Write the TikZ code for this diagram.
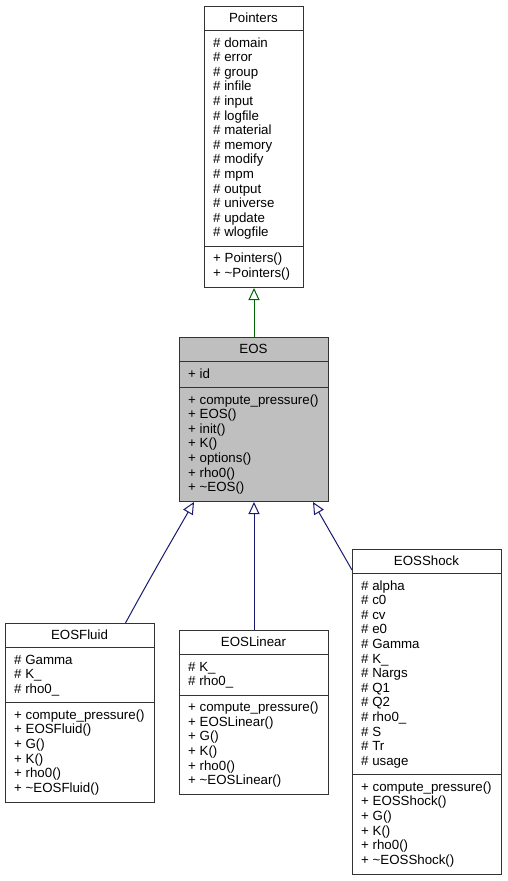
\documentclass[tikz,border=0pt]{standalone}
\usepackage{fontspec}
\setmainfont{Liberation Sans}
\usetikzlibrary{arrows.meta}
\newcommand{\umlfont}{\fontsize{13.3}{14.6}\selectfont}
\definecolor{inhgreen}{HTML}{006400}
\definecolor{inhblue}{HTML}{191970}
\definecolor{basegray}{HTML}{BFBFBF}
\tikzset{
    classbox/.style = {draw = black!80, line width = 1pt, fill = white, anchor = north west, inner sep = 0pt, minimum width = 149pt},
    classname/.style = {anchor = base, inner sep = 0pt, font = \umlfont},
    member/.style = {anchor = base west, inner sep = 0pt, font = \umlfont},
    compsep/.style = {draw = black!80, line width = 1pt},
    inherit/.style = {-{Triangle[open, length = 12pt, width = 11pt]}, line width = 1pt}
}
\begin{document}
\begin{tikzpicture}[x = 1pt, y = -1pt]
    \useasboundingbox (0,0) rectangle (507,881);
    % Pointers
    \node[classbox, minimum width = 99pt, minimum height = 281pt] (pointers) at (204,6) {};
    \node[classname] (pointers-name) at (253.5,22) {Pointers};
    \draw[compsep] ([yshift = -24.5pt]pointers.north west) -- ([yshift = -24.5pt]pointers.north east);
    \draw[compsep] ([yshift = -240.4pt]pointers.north west) -- ([yshift = -240.4pt]pointers.north east);
    \foreach \m [count = \i from 0] in {\# domain, \# error, \# group, \# infile, \# input, \# logfile, \# material, \# memory, \# modify, \# mpm, \# output, \# universe, \# update, \# wlogfile}
        \node[member] (pointers-a\i) at (213,{47+14.6*\i}) {\m};
    \foreach \m [count = \i from 0] in {+ Pointers(), + \textasciitilde Pointers()}
        \node[member] (pointers-o\i) at (213,{262.9+14.6*\i}) {\m};
    % EOS
    \node[classbox, fill = basegray, minimum height = 164pt] (eos) at (179,337) {};
    \node[classname] (eos-name) at (253.5,353) {EOS};
    \draw[compsep] ([yshift = -24.5pt]eos.north west) -- ([yshift = -24.5pt]eos.north east);
    \draw[compsep] ([yshift = -50.6pt]eos.north west) -- ([yshift = -50.6pt]eos.north east);
    \node[member] (eos-a0) at (188,378) {+ id};
    \foreach \m [count = \i from 0] in {+ compute\_pressure(), + EOS(), + init(), + K(), + options(), + rho0(), + \textasciitilde EOS()}
        \node[member] (eos-o\i) at (188,{404.1+14.6*\i}) {\m};
    % EOSFluid
    \node[classbox, minimum height = 178.9pt] (eosfluid) at (5,623) {};
    \node[classname] (eosfluid-name) at (79.5,639) {EOSFluid};
    \draw[compsep] ([yshift = -24.5pt]eosfluid.north west) -- ([yshift = -24.5pt]eosfluid.north east);
    \draw[compsep] ([yshift = -79.8pt]eosfluid.north west) -- ([yshift = -79.8pt]eosfluid.north east);
    \foreach \m [count = \i from 0] in {\# Gamma, \# K\_, \# rho0\_}
        \node[member] (eosfluid-a\i) at (14,{664+14.6*\i}) {\m};
    \foreach \m [count = \i from 0] in {+ compute\_pressure(), + EOSFluid(), + G(), + K(), + rho0(), + \textasciitilde EOSFluid()}
        \node[member] (eosfluid-o\i) at (14,{719.3+14.6*\i}) {\m};
    % EOSLinear
    \node[classbox, minimum height = 164.3pt] (eoslinear) at (179,630) {};
    \node[classname] (eoslinear-name) at (253.5,646) {EOSLinear};
    \draw[compsep] ([yshift = -24.5pt]eoslinear.north west) -- ([yshift = -24.5pt]eoslinear.north east);
    \draw[compsep] ([yshift = -65.2pt]eoslinear.north west) -- ([yshift = -65.2pt]eoslinear.north east);
    \foreach \m [count = \i from 0] in {\# K\_, \# rho0\_}
        \node[member] (eoslinear-a\i) at (188,{671+14.6*\i}) {\m};
    \foreach \m [count = \i from 0] in {+ compute\_pressure(), + EOSLinear(), + G(), + K(), + rho0(), + \textasciitilde EOSLinear()}
        \node[member] (eoslinear-o\i) at (188,{711.7+14.6*\i}) {\m};
    % EOSShock
    \node[classbox, minimum height = 324.9pt] (eosshock) at (352,549) {};
    \node[classname] (eosshock-name) at (426.5,565) {EOSShock};
    \draw[compsep] ([yshift = -24.5pt]eosshock.north west) -- ([yshift = -24.5pt]eosshock.north east);
    \draw[compsep] ([yshift = -225.8pt]eosshock.north west) -- ([yshift = -225.8pt]eosshock.north east);
    \foreach \m [count = \i from 0] in {\# alpha, \# c0, \# cv, \# e0, \# Gamma, \# K\_, \# Nargs, \# Q1, \# Q2, \# rho0\_, \# S, \# Tr, \# usage}
        \node[member] (eosshock-a\i) at (361,{590+14.6*\i}) {\m};
    \foreach \m [count = \i from 0] in {+ compute\_pressure(), + EOSShock(), + G(), + K(), + rho0(), + \textasciitilde EOSShock()}
        \node[member] (eosshock-o\i) at (361,{791.3+14.6*\i}) {\m};
    % inheritance
    \coordinate (fluid-top) at ([xshift = 45.5pt]eosfluid.north);
    \coordinate (shock-side) at ([yshift = -21pt]eosshock.north west);
    \draw[inherit, inhgreen] (eos.north) -- (pointers.south);
    \draw[inherit, inhblue] (fluid-top) .. controls (150,578) and (172,540) .. ([xshift = -60pt]eos.south);
    \draw[inherit, inhblue] (eoslinear.north) -- (eos.south);
    \draw[inherit, inhblue] (shock-side) -- ([xshift = 59pt]eos.south);
\end{tikzpicture}
\end{document}
